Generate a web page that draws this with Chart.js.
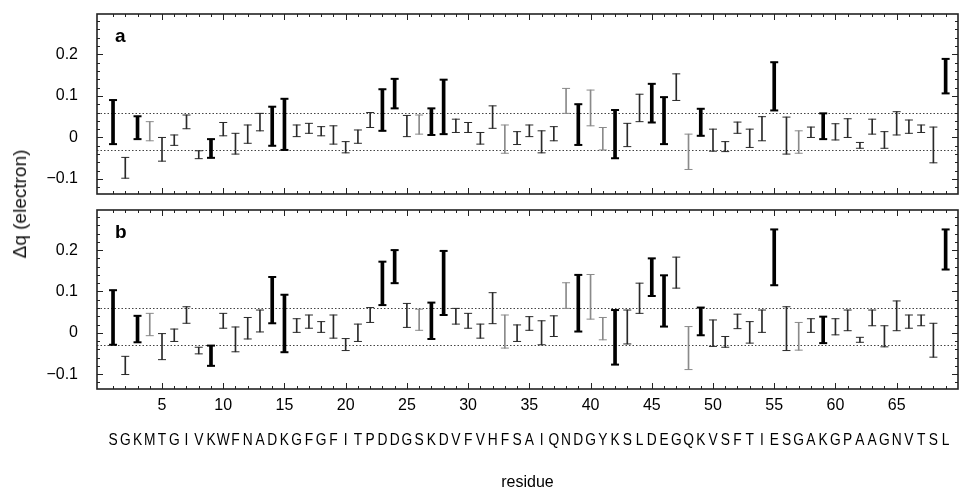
<!DOCTYPE html>
<html>
<head>
<meta charset="utf-8">
<script src="https://cdn.jsdelivr.net/npm/chart.js@4.4.0/dist/chart.umd.min.js"></script>
<style>
  html, body { margin: 0; padding: 0; background: #fff; }
  #wrap { position: relative; width: 964px; height: 495px; overflow: hidden; }
  canvas { position: absolute; left: 0; }
  #chartA { top: 0; }
  #chartB { top: 200px; }
  #ylab {
    position: absolute; left: 20px; top: 204px;
    transform: translate(-50%, -50%) rotate(-90deg);
    font: 19px 'Liberation Sans', Arial, sans-serif; color: #111; white-space: nowrap;
  }
</style>
</head>
<body>
<div id="wrap">
  <canvas id="chartA" width="964" height="200"></canvas>
  <canvas id="chartB" width="964" height="295"></canvas>
  <div id="ylab">&Delta;q (electron)</div>
</div>
<script>
// residue sequence (one letter per residue, 1..69)
var sequence = 'SGKMTGIVKWFNADKGFGFITPDDGSKDVFVHFSAIQNDGYKSLDEGQKVSFTIESGAKGPAAGNVTSL'.split('');

// panel a: lower / upper end of each bar
var lowA  = [-0.016,-0.098,-0.004,-0.008,-0.057,-0.019, 0.021,-0.051,-0.049, 0.004,
             -0.040,-0.014, 0.016,-0.020,-0.030, 0.002, 0.010, 0.004,-0.016,-0.037,
             -0.014, 0.024, 0.016, 0.070, 0.002, 0.008, 0.006, 0.008, 0.012, 0.012,
             -0.016, 0.022,-0.038,-0.017, 0.002,-0.037,-0.008, 0.058,-0.018, 0.028,
             -0.030,-0.050,-0.022, 0.038, 0.036,-0.016, 0.089,-0.077, 0.004,-0.033,
             -0.034, 0.010,-0.024,-0.008, 0.065,-0.040,-0.038, 0.000,-0.004,-0.006,
              0.000,-0.026, 0.008,-0.026, 0.006, 0.010, 0.012,-0.061, 0.106];
var highA = [ 0.090,-0.048, 0.051, 0.038, 0.000, 0.006, 0.054,-0.032,-0.004, 0.036,
              0.010, 0.030, 0.058, 0.074, 0.093, 0.030, 0.034, 0.026, 0.028,-0.010,
              0.018, 0.060, 0.116, 0.141, 0.053, 0.054, 0.070, 0.139, 0.044, 0.036,
              0.012, 0.076, 0.030, 0.014, 0.030, 0.016, 0.026, 0.118, 0.080, 0.114,
              0.024, 0.066, 0.034, 0.104, 0.129, 0.097, 0.153, 0.008, 0.069, 0.020,
             -0.010, 0.037, 0.020, 0.050, 0.181, 0.049, 0.016, 0.025, 0.058, 0.033,
              0.045,-0.012, 0.044, 0.014, 0.062, 0.042, 0.030, 0.025, 0.189];

// panel b
var lowB  = [-0.029,-0.101,-0.023,-0.007,-0.065,-0.021, 0.023,-0.051,-0.080, 0.011,
             -0.046,-0.015, 0.002, 0.023,-0.047, 0.001, 0.011, 0.001,-0.013,-0.043,
             -0.021, 0.025, 0.067, 0.120, 0.013, 0.006,-0.015, 0.043, 0.021, 0.011,
             -0.013, 0.022,-0.037,-0.021, 0.006,-0.029,-0.009, 0.059, 0.003, 0.033,
             -0.017,-0.077,-0.027, 0.047, 0.089, 0.015, 0.108,-0.089,-0.006,-0.033,
             -0.035, 0.010,-0.025, 0.001, 0.115,-0.043,-0.042, 0.001,-0.025,-0.005,
              0.005,-0.023, 0.017,-0.034, 0.005, 0.011, 0.017,-0.059, 0.153];
var highB = [ 0.103,-0.057, 0.041, 0.047,-0.002, 0.009, 0.063,-0.035,-0.031, 0.047,
              0.014, 0.037, 0.055, 0.135, 0.092, 0.034, 0.043, 0.027, 0.043,-0.014,
              0.021, 0.061, 0.172, 0.200, 0.071, 0.057, 0.073, 0.198, 0.059, 0.047,
              0.021, 0.097, 0.043, 0.019, 0.039, 0.029, 0.041, 0.121, 0.140, 0.141,
              0.037, 0.055, 0.055, 0.120, 0.180, 0.139, 0.183, 0.015, 0.061, 0.031,
             -0.009, 0.045, 0.027, 0.055, 0.250, 0.063, 0.025, 0.034, 0.039, 0.034,
              0.055,-0.011, 0.055, 0.017, 0.077, 0.043, 0.043, 0.023, 0.250];

// residues drawn heavy, and residues drawn in light grey
var heavyResidues = [1, 3, 9, 14, 15, 23, 24, 27, 28, 39, 42, 45, 46, 49, 55, 59, 69];
var greyResidues  = [4, 26, 33, 38, 40, 41, 48, 57];

// dotted reference levels
var refLevels = [0.06, -0.03];

var FONT = "'Liberation Sans', Arial, Helvetica, sans-serif";

function isHeavy(r) { return heavyResidues.indexOf(r) >= 0; }
function barColor(r) {
    if (isHeavy(r)) return '#000';
    return greyResidues.indexOf(r) >= 0 ? '#8a8a8a' : '#2a2a2a';
}

function buildDatasets(low, high) {
    var heavy = [], light = [], caps = [];
    for (var i = 0; i < sequence.length; i++) {
        var r = i + 1;
        var pt = { x: r, y: [low[i], high[i]] };
        if (isHeavy(r)) heavy.push(pt); else light.push(pt);
        caps.push({ x: r, y: low[i] });
        caps.push({ x: r, y: high[i] });
    }
    return [
        { type: 'scatter', data: caps, pointStyle: 'line', pointRadius: 4,
          pointBorderWidth: function (c) { return c.raw && isHeavy(c.raw.x) ? 2 : 1; },
          pointBorderColor: function (c) { return c.raw ? barColor(c.raw.x) : '#000'; },
          pointHoverRadius: 4, order: 0 },
        { type: 'bar', data: heavy, barThickness: 3, grouped: false,
          backgroundColor: '#000', borderWidth: 0, order: 1 },
        { type: 'bar', data: light, barThickness: 1, grouped: false,
          backgroundColor: function (c) { return c.raw ? barColor(c.raw.x) : '#222'; },
          borderWidth: 0, order: 2 }
    ];
}

// dotted lines, frame, inward ticks, panel letter, sequence row
var panelDeco = {
    id: 'panelDeco',
    beforeDatasetsDraw: function (chart) {
        var ctx = chart.ctx, a = chart.chartArea, y = chart.scales.y;
        ctx.save();
        ctx.strokeStyle = '#444';
        ctx.lineWidth = 1;
        ctx.setLineDash([1.5, 2]);
        refLevels.forEach(function (v) {
            var py = Math.round(y.getPixelForValue(v)) + 0.5;
            ctx.beginPath(); ctx.moveTo(a.left, py); ctx.lineTo(a.right, py); ctx.stroke();
        });
        ctx.restore();
    },
    afterDatasetsDraw: function (chart, args, opts) {
        var ctx = chart.ctx, a = chart.chartArea, x = chart.scales.x, y = chart.scales.y;
        ctx.save();
        ctx.strokeStyle = '#222';
        ctx.lineWidth = 1;
        ctx.beginPath();
        for (var r = 1; r <= sequence.length; r++) {
            var px = Math.round(x.getPixelForValue(r)) + 0.5;
            var len = r % 5 === 0 ? 6 : 3;
            ctx.moveTo(px, a.bottom); ctx.lineTo(px, a.bottom - len);
            ctx.moveTo(px, a.top); ctx.lineTo(px, a.top + len);
        }
        for (var k = -6; k <= 14; k++) {
            var py = Math.round(y.getPixelForValue(k * 0.02)) + 0.5;
            if (py <= a.top + 1 || py >= a.bottom - 1) continue;
            var l2 = k % 5 === 0 ? 6 : 3;
            ctx.moveTo(a.left, py); ctx.lineTo(a.left + l2, py);
            ctx.moveTo(a.right, py); ctx.lineTo(a.right - l2, py);
        }
        ctx.stroke();
        ctx.lineWidth = 1.6;
        ctx.strokeRect(a.left, a.top, a.right - a.left, a.bottom - a.top);
        ctx.fillStyle = '#000';
        ctx.font = 'bold 19px ' + FONT;
        ctx.textBaseline = 'alphabetic';
        ctx.fillText(opts.letter, a.left + 18, a.top + 28);
        if (opts.sequence) {
            ctx.font = '16px ' + FONT;
            ctx.textAlign = 'center';
            ctx.textBaseline = 'middle';
            for (var i = 0; i < sequence.length; i++) {
                ctx.save();
                ctx.translate(x.getPixelForValue(i + 1), opts.seqY);
                ctx.scale(0.86, 1);
                ctx.fillText(sequence[i], 0, 0);
                ctx.restore();
            }
        }
        ctx.restore();
    }
};

function yLabel(v) {
    var t = Math.round(v * 10) / 10;
    if (Math.abs(v - t) > 1e-6 || t > 0.2 || t < -0.1) return '';
    if (t === 0) return '0';
    return t < 0 ? '\u2212' + Math.abs(t).toFixed(1) : t.toFixed(1);
}

function makeChart(id, low, high, letter, bottomAxis) {
    return new Chart(document.getElementById(id), {
        type: 'bar',
        data: { datasets: buildDatasets(low, high) },
        plugins: [panelDeco],
        options: {
            responsive: false,
            animation: false,
            events: [],
            layout: { padding: bottomAxis ? { top: 10, right: 1, bottom: 0, left: 0 }
                                          : { top: 14, right: 1, bottom: 6, left: 0 } },
            plugins: {
                legend: { display: false },
                tooltip: { enabled: false },
                panelDeco: { letter: letter, sequence: bottomAxis, seqY: 241 }
            },
            scales: {
                x: {
                    type: 'linear', min: 0.2, max: 69.5,
                    display: bottomAxis,
                    afterFit: function (s) {
                        s.height = bottomAxis ? 106 : 0;
                        s.paddingLeft = 0; s.paddingRight = 0;
                    },
                    grid: { display: false, drawTicks: false },
                    border: { display: false },
                    ticks: {
                        stepSize: 1, autoSkip: false, includeBounds: false, maxRotation: 0,
                        padding: 7, color: '#000', font: { family: FONT, size: 16 },
                        callback: function (v) { return (v >= 5 && v % 5 === 0) ? String(v) : ''; }
                    },
                    title: { display: bottomAxis, text: 'residue', color: '#000',
                             font: { family: FONT, size: 16 }, padding: { top: 0, bottom: 3 } }
                },
                y: {
                    min: -0.136, max: 0.297,
                    afterFit: function (s) {
                        s.width = 97;
                        s.paddingTop = 0; s.paddingBottom = 0;
                    },
                    grid: { display: false, drawTicks: false },
                    border: { display: false },
                    ticks: {
                        stepSize: 0.1, includeBounds: false, padding: 19, color: '#000',
                        font: { family: FONT, size: 16 },
                        callback: yLabel
                    }
                }
            }
        }
    });
}

makeChart('chartA', lowA, highA, 'a', false);
makeChart('chartB', lowB, highB, 'b', true);
</script>
</body>
</html>
